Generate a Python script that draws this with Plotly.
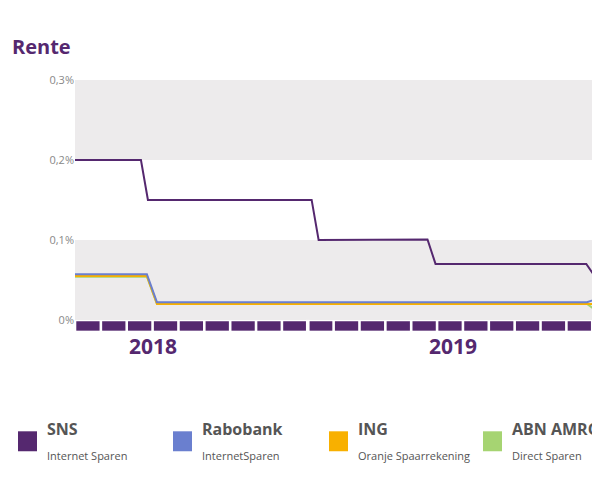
import plotly.graph_objects as go

# x in months since Jan 2018 (0 = Jan 2018)
sns_x = [3, 5.55, 5.82, 12.15, 12.42, 16.63, 16.94, 22.77, 23.3]
sns_y = [0.2, 0.2, 0.15, 0.15, 0.1, 0.1005, 0.07, 0.07, 0.045]
rabo_x = [3, 5.78, 6.17, 22.8, 23.3]
rabo_y = [0.057, 0.057, 0.022, 0.022, 0.028]
ing_x = [3, 5.78, 6.17, 22.8, 23.3]
ing_y = [0.055, 0.055, 0.020, 0.020, 0.020]
abn_x = [3, 5.78, 6.17, 22.8, 23.3]
abn_y = [0.054, 0.054, 0.020, 0.020, 0.008]
months = list(range(3, 24))
years = ["2018", "2019"]
year_pos = [6.0, 17.6]
ytick_vals = [0, 0.1, 0.2, 0.3]
ytick_text = ["0%", "0,1%", "0,2%", "0,3%"]
legend_names = ["SNS", "Rabobank", "ING", "ABN AMRO"]
legend_subs = ["Internet Sparen", "InternetSparen", "Oranje Spaarrekening", "Direct Sparen"]
colors = ["#55286f", "#6a7fcf", "#f8b000", "#a6d472"]

purple = "#55286f"
fig = go.Figure()
fig.add_trace(go.Bar(x=[m + 0.5 for m in months], y=[0.0118] * len(months), base=-0.0135,
                     width=0.9, marker=dict(color=purple, line_width=0), hoverinfo="skip"))
for xs, ys, c in [(abn_x, abn_y, colors[3]), (ing_x, ing_y, colors[2]),
                  (rabo_x, rabo_y, colors[1]), (sns_x, sns_y, colors[0])]:
    fig.add_trace(go.Scatter(x=xs, y=ys, mode="lines", line=dict(color=c, width=2)))

shapes = []
for y0, y1 in [(0, 0.1), (0.2, 0.3)]:
    shapes.append(dict(type="rect", xref="paper", yref="y", x0=0, x1=1, y0=y0, y1=y1,
                       fillcolor="#edebec", line_width=0, layer="below"))
shapes.append(dict(type="rect", xref="x", yref="y", x0=11.93, x1=12.07, y0=-0.015, y1=0,
                   fillcolor="white", line_width=0, layer="above"))
ann = [dict(text="<b>Rente</b>", xref="paper", yref="paper", x=-0.124, y=1.195, xanchor="left",
            showarrow=False, font=dict(size=20, color=purple))]
for t, p in zip(years, year_pos):
    ann.append(dict(text="<b>%s</b>" % t, x=p, xref="x", y=(331.5 - 363) / 251.5, yref="paper",
                    showarrow=False, font=dict(size=21, color=purple)))
lx = [18, 173, 329, 483]
for i in range(4):
    shapes.append(dict(type="rect", xref="paper", yref="paper",
                       x0=(lx[i] - 75) / 525, x1=(lx[i] + 19 - 75) / 525,
                       y0=(331.5 - 452) / 251.5, y1=(331.5 - 432) / 251.5,
                       fillcolor=colors[i], line_width=0))
    ann.append(dict(text="<b>%s</b>" % legend_names[i], xref="paper", yref="paper",
                    x=(lx[i] + 27 - 75) / 525, y=(331.5 - 443) / 251.5, xanchor="left",
                    showarrow=False, font=dict(size=16, color="#555555")))
    ann.append(dict(text=legend_subs[i], xref="paper", yref="paper",
                    x=(lx[i] + 27 - 75) / 525, y=(331.5 - 466) / 251.5, xanchor="left",
                    showarrow=False, font=dict(size=11, color="#555555")))

fig.update_layout(
    width=592, height=472, margin=dict(l=67, r=0, t=72, b=148.5),
    paper_bgcolor="white", plot_bgcolor="white", showlegend=False,
    font=dict(family="Open Sans"), shapes=shapes, annotations=ann,
    xaxis=dict(range=[3, 23.3], visible=False),
    yaxis=dict(range=[-0.0139, 0.3], tickvals=ytick_vals, ticktext=ytick_text, showgrid=False,
               zeroline=False, tickfont=dict(size=11, color="#888888"), ticks=""),
)
fig.write_html("out.html")
